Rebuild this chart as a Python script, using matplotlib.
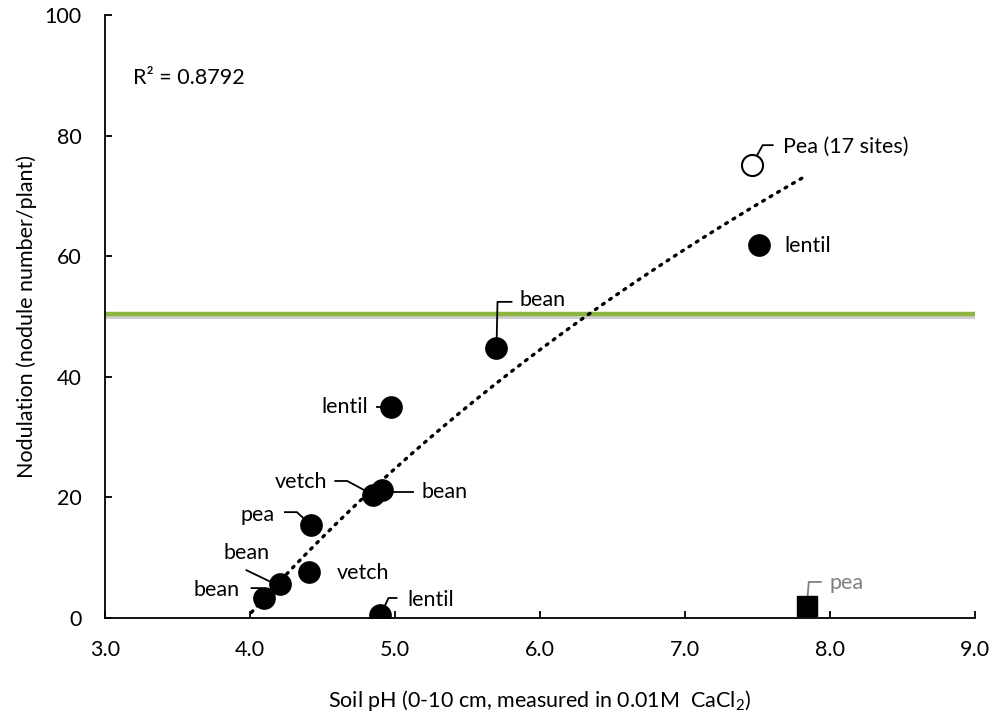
import numpy as np
import matplotlib
matplotlib.use("Agg")
import matplotlib.pyplot as plt

plt.rcParams['font.family'] = ['Lato', 'DejaVu Sans']
plt.rcParams['mathtext.fontset'] = 'custom'
plt.rcParams['mathtext.rm'] = 'Lato'
plt.rcParams['mathtext.default'] = 'regular'

# filled circles: soil pH vs nodulation
ph = [4.10, 4.21, 4.41, 4.42, 4.85, 4.91, 4.97, 4.90, 5.70, 7.51]
nod = [3.3, 5.6, 7.7, 15.4, 20.4, 21.2, 35.0, 0.5, 44.8, 61.9]
crop = ['bean', 'bean', 'vetch', 'pea', 'vetch', 'bean', 'lentil', 'lentil', 'bean', 'lentil']

# open circle (17 pea sites) and the outlier square
ph_open, nod_open, lab_open = 7.46, 75.1, 'Pea (17 sites)'
ph_sq, nod_sq, lab_sq = 7.84, 2.0, 'pea'

# log trendline y = a*ln(x) + b
trend_a, trend_b = 108.1, -149.2
trend_x = [4.01, 7.81]
r2 = 0.8792
threshold = 50.4

# label placement: text offset (px, y down), alignment, leader line (px, y down)
lab_pos = [
    (-25, -8, 'right', [(-13, -10), (-3, -10), (0, 0)]),
    (-11, -31, 'right', [(-34, -14), (-9, -2), (0, 0)]),
    (27, 1, 'left', None),
    (-36, -10, 'right', [(-26, -13), (-14, -13), (0, 0)]),
    (-46, -13, 'right', [(-38, -14), (-26, -14), (0, 0)]),
    (40, 2, 'left', [(0, 2), (31, 2)]),
    (-23, 0, 'right', [(-14, 0), (0, 0)]),
    (27, -15, 'left', [(0, 0), (8, -17), (16, -17)]),
    (23, -48, 'left', [(0, 0), (1, -46), (15, -46)]),
    (25, 1, 'left', None),
]

FS = 15.5

fig = plt.figure(figsize=(9.94, 7.18), dpi=100)
ax = fig.add_axes([105 / 994, 100 / 718, 870 / 994, 603 / 718])
ax.set_xlim(3, 9)
ax.set_ylim(0, 100)

# green reference line with a faint shadow
ax.plot([3, 9], [threshold - 0.4, threshold - 0.4], color='#cfcfcf', lw=3, zorder=1)
ax.plot([3, 9], [threshold, threshold], color='#8db542', lw=3.2, zorder=2)

xt = np.linspace(trend_x[0], trend_x[1], 200)
ax.plot(xt, trend_a * np.log(xt) + trend_b, color='black', lw=2.4,
        linestyle=(0, (0.6, 2.0)), dash_capstyle='round', zorder=3)

ax.scatter(ph, nod, s=235, color='black', zorder=5)
ax.scatter([ph_open], [nod_open], s=230, facecolor='white', edgecolor='black', lw=1.5, zorder=5)
ax.scatter([ph_sq], [nod_sq], s=215, marker='s', color='black', zorder=5)


def label(x, y, text, dx, dy, ha, leader, color='black'):
    cx, cy = ax.transData.transform((x, y))
    ax.text(cx + dx, cy - dy, text, ha=ha, va='center', fontsize=FS, color=color,
            transform=None, zorder=6)
    if leader:
        pts = np.array([(cx + p[0], cy - p[1]) for p in leader])
        ax.plot(pts[:, 0], pts[:, 1], color=color, lw=1.3, transform=None, zorder=4)


for x, y, c, (dx, dy, ha, ld) in zip(ph, nod, crop, lab_pos):
    label(x, y, c, dx, dy, ha, ld)
label(ph_open, nod_open, lab_open, 31, -18, 'left', [(0, 0), (11, -20), (21, -20)])
label(ph_sq, nod_sq, lab_sq, 23, -23, 'left', [(0, 0), (2, -24), (14, -24)], color='#7f7f7f')

ax.text(3.19, 89.6, 'R² = %.4f' % r2, fontsize=FS, va='center', ha='left')

ax.set_xticks(np.arange(3, 9.01, 1.0))
ax.set_xticklabels(['%.1f' % v for v in np.arange(3, 9.01, 1.0)])
ax.set_yticks(range(0, 101, 20))
ax.tick_params(direction='in', length=5, width=1.3, labelsize=FS)
ax.tick_params(axis='x', pad=16)
ax.tick_params(axis='y', pad=17)
for s in ['top', 'right']:
    ax.spines[s].set_visible(False)
for s in ['left', 'bottom']:
    ax.spines[s].set_linewidth(1.3)

ax.set_xlabel('Soil pH (0-10 cm, measured in 0.01M  CaCl$_2$)', fontsize=FS, labelpad=20)
ax.set_ylabel('Nodulation (nodule number/plant)', fontsize=FS, labelpad=5)

fig.savefig('out.png', dpi=100)
